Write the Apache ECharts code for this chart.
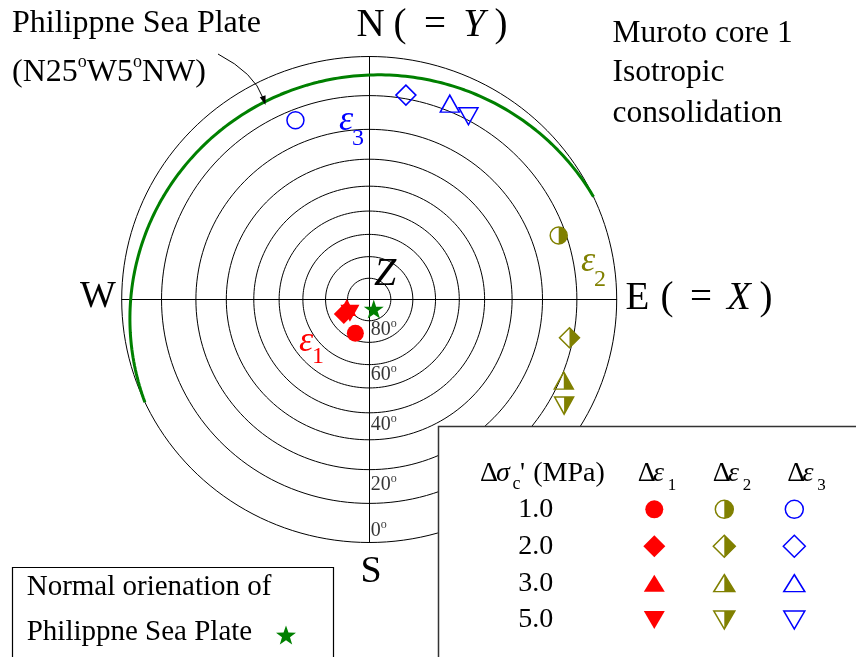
<!DOCTYPE html>
<html><head><meta charset="utf-8">
<script src="https://cdn.jsdelivr.net/npm/echarts@6/dist/echarts.min.js"></script>
<style>html,body{margin:0;padding:0;background:#fff}#c{width:856px;height:657px}</style>
</head><body><div id="c"></div>
<script>
// ---------------- data ----------------
const pressures = ['1.0', '2.0', '3.0', '5.0'];          // Δσc' (MPa)
const strainNames = ['Δε1', 'Δε2', 'Δε3'];
// trend (azimuth, deg from N clockwise) and plunge (deg) of principal strain increments
const eps1Trend = [202, 240, 250, 234];
const eps1Plunge = [73, 76.5, 79, 79];
const eps2Trend = [71, 101, 113, 119];
const eps2Plunge = [12, 11, 9, 6];
const eps3Trend = [338, 10, 22, 28];
const eps3Plunge = [13, 9, 8, 9];
// Philippine Sea Plate plane: dip direction / dip
const plateDipDir = 335;
const plateDip = 5;
// stereonet rings (plunge) and tick labels
const ringPlunges = [80, 70, 60, 50, 40, 30, 20, 10, 0];
const tickPlunges = [0, 20, 40, 60, 80];
const tickLabels = ['0', '20', '40', '60', '80'];

// ---------------- helpers ----------------
const D = Math.PI / 180;
const FONT = '"Liberation Serif", "Times New Roman", serif';
const RED = '#ff0000', OLIVE = '#808000', BLUE = '#0000ff', GREEN = '#008000';
function proj(trend, plunge) { // lower-hemisphere stereographic projection
  const r = Math.tan((90 - plunge) / 2 * D);
  return [r * Math.sin(trend * D), r * Math.cos(trend * D)];
}
const symFull = ['circle', 'diamond', 'triangle', 'triangle'];
const symRot = [0, 0, 0, 180];
const halfPaths = [
  'path://M0 -1 A1 1 0 0 1 0 1 Z M-1 0 L-1 0.001 Z',
  'path://M0 -1 L1 0 L0 1 Z M-1 0 L-1 0.001 Z',
  'path://M0 -1 L1 1 L0 1 Z M-1 1 L-1 0.999 Z',
  'path://M0 1 L1 -1 L0 -1 Z M-1 -1 L-1 -0.999 Z'
];
const STAR = 'path://M0 -1 L0.2245 -0.309 L0.9511 -0.309 L0.3633 0.118 L0.5878 0.809 L0 0.382 L-0.5878 0.809 L-0.3633 0.118 L-0.9511 -0.309 L-0.2245 -0.309 Z';
const mainSize = [[17, 17], [20, 20], [19, 17], [19, 17]];
const legSize = [[18, 18], [22, 22], [21, 17], [21, 18]];

const series = [];
// rings
ringPlunges.forEach(p => {
  const r = Math.tan((90 - p) / 2 * D);
  const d = [];
  for (let a = 0; a <= 360; a += 2) d.push([r * Math.sin(a * D), r * Math.cos(a * D)]);
  series.push({ type: 'line', data: d, symbol: 'none', silent: true, z: 1,
    lineStyle: { color: '#000', width: 1 } });
});
// plate great circle
(function () {
  const sAz = plateDipDir - 90;
  const sv = [Math.sin(sAz * D), Math.cos(sAz * D), 0];
  const dv = [Math.sin(plateDipDir * D) * Math.cos(plateDip * D),
              Math.cos(plateDipDir * D) * Math.cos(plateDip * D), Math.sin(plateDip * D)];
  const d = [];
  for (let t = 0; t <= 180; t += 1) {
    const c = Math.cos(t * D), s = Math.sin(t * D);
    const v = [c * sv[0] + s * dv[0], c * sv[1] + s * dv[1], c * sv[2] + s * dv[2]];
    d.push([v[0] / (1 + v[2]), v[1] / (1 + v[2])]);
  }
  series.push({ type: 'line', data: d, symbol: 'none', silent: true, z: 2,
    lineStyle: { color: GREEN, width: 3 } });
})();
// tick labels
series.push({
  type: 'scatter', silent: true, z: 3, symbolSize: 1, itemStyle: { color: 'rgba(0,0,0,0)' },
  data: tickPlunges.map((p, i) => {
    const inner = p > 0;
    const v = inner ? proj(180, p - 5) : proj(180, p);
    return { value: v, label: { show: true, position: [2, inner ? -2 : -12],
      formatter: '{n|' + tickLabels[i] + '}{s|o}' } };
  }),
  label: { align: 'left', verticalAlign: 'middle', color: '#000',
    rich: { n: { fontFamily: FONT, fontSize: 20, color: '#000', lineHeight: 22, verticalAlign: 'bottom' },
            s: { fontFamily: FONT, fontSize: 12, color: '#000', lineHeight: 12, verticalAlign: 'top' } } }
});
// strain points
function mk(tr, pl, fills) {
  return tr.map((t, i) => ({ value: proj(t, pl[i]), symbol: fills ? halfPaths[i] : symFull[i],
    symbolRotate: fills ? 0 : symRot[i], symbolSize: mainSize[i] }));
}
series.push({ type: 'scatter', silent: true, z: 4, data: mk(eps1Trend, eps1Plunge, false),
  itemStyle: { color: RED, borderWidth: 0, opacity: 1 } });
series.push({ type: 'scatter', silent: true, z: 4, data: mk(eps2Trend, eps2Plunge, false),
  itemStyle: { color: 'rgba(0,0,0,0)', borderColor: OLIVE, borderWidth: 1.5, opacity: 1 } });
series.push({ type: 'scatter', silent: true, z: 5, data: mk(eps2Trend, eps2Plunge, true),
  itemStyle: { color: OLIVE, borderWidth: 0, opacity: 1 } });
series.push({ type: 'scatter', silent: true, z: 4, data: mk(eps3Trend, eps3Plunge, false),
  itemStyle: { color: 'rgba(0,0,0,0)', borderColor: BLUE, borderWidth: 1.5, opacity: 1 } });
// plate pole
series.push({ type: 'scatter', silent: true, z: 6, symbol: STAR, symbolSize: [20, 19],
  data: [proj(plateDipDir - 180, 90 - plateDip)], itemStyle: { color: GREEN, opacity: 1 } });

// legend table (second grid)
series.push({ type: 'scatter', xAxisIndex: 1, yAxisIndex: 1, silent: true, z: 10,
  data: pressures.map((p, i) => ({ value: [strainNames[0], p], symbol: symFull[i], symbolRotate: symRot[i], symbolSize: legSize[i] })),
  itemStyle: { color: RED, borderWidth: 0, opacity: 1 } });
series.push({ type: 'scatter', xAxisIndex: 1, yAxisIndex: 1, silent: true, z: 10,
  data: pressures.map((p, i) => ({ value: [strainNames[1], p], symbol: symFull[i], symbolRotate: symRot[i], symbolSize: legSize[i] })),
  itemStyle: { color: 'rgba(0,0,0,0)', borderColor: OLIVE, borderWidth: 1.5, opacity: 1 } });
series.push({ type: 'scatter', xAxisIndex: 1, yAxisIndex: 1, silent: true, z: 11,
  data: pressures.map((p, i) => ({ value: [strainNames[1], p], symbol: halfPaths[i], symbolSize: legSize[i] })),
  itemStyle: { color: OLIVE, borderWidth: 0, opacity: 1 } });
series.push({ type: 'scatter', xAxisIndex: 1, yAxisIndex: 1, silent: true, z: 10,
  data: pressures.map((p, i) => ({ value: [strainNames[2], p], symbol: symFull[i], symbolRotate: symRot[i], symbolSize: legSize[i] })),
  itemStyle: { color: 'rgba(0,0,0,0)', borderColor: BLUE, borderWidth: 1.5, opacity: 1 } });

// ---------------- annotations ----------------
function txt(x, y, text, size, opt) {
  opt = opt || {};
  return { type: 'text', x: x, y: y, z: 20, silent: true,
    style: Object.assign({ text: text, fill: opt.fill || '#000',
      font: (opt.italic ? 'italic ' : '') + size + 'px ' + FONT,
      textAlign: opt.align || 'left', textVerticalAlign: 'middle',
      align: opt.align || 'left', verticalAlign: 'middle' }, opt.style || {}) };
}
function rtxt(x, y, text, rich, align) {
  return { type: 'text', x: x, y: y, z: 20, silent: true,
    style: { text: text, rich: rich, textAlign: align || 'left', textVerticalAlign: 'middle',
      align: align || 'left', verticalAlign: 'middle', fill: '#000' } };
}
const R = (size, extra) => Object.assign({ fontFamily: FONT, fontSize: size, fill: '#000', color: '#000' }, extra || {});

const graphics = [
  // boxes
  { type: 'rect', z: 5, silent: true, shape: { x: 438.5, y: 426.5, width: 430, height: 240 },
    style: { fill: '#fff', stroke: '#333', lineWidth: 1.5 } },
  { type: 'rect', z: 5, silent: true, shape: { x: 12.5, y: 567.5, width: 321, height: 100 },
    style: { fill: '#fff', stroke: '#000', lineWidth: 1.2 } },
  // arrow
  { type: 'bezierCurve', z: 20, silent: true,
    shape: { x1: 218, y1: 54, cpx1: 254.5, cpy1: 73, x2: 263, y2: 98 },
    style: { stroke: '#000', lineWidth: 1, fill: null } },
  { type: 'polygon', z: 20, silent: true,
    shape: { points: [[265.5, 105], [259.8, 97.2], [265.6, 95.3]] }, style: { fill: '#000' } },
  // top-left
  txt(12, 23.5, 'Philippne Sea Plate', 32),
  rtxt(12, 71, '{a|(N25}{s|o}{a|W5}{s|o}{a|NW)}', {
    a: R(32, { lineHeight: 36, verticalAlign: 'bottom' }),
    s: R(18, { lineHeight: 18, verticalAlign: 'top' }) }),
  // top-right
  txt(612.5, 33.5, 'Muroto core 1', 31.5),
  txt(612.5, 73, 'Isotropic', 31.5),
  txt(612.5, 113.5, 'consolidation', 31.5),
  // directions: N ( = Y )
  txt(370.5, 25.5, 'N', 39, { align: 'center' }),
  txt(400, 25.5, '(', 39, { align: 'center' }),
  txt(435, 25.5, '=', 39, { align: 'center' }),
  txt(474, 25.5, 'Y', 39, { align: 'center', italic: true }),
  txt(501, 25.5, ')', 39, { align: 'center' }),
  // E ( = X )
  txt(637.5, 299, 'E', 39, { align: 'center' }),
  txt(667, 299, '(', 39, { align: 'center' }),
  txt(701, 299, '=', 39, { align: 'center' }),
  txt(739, 299, 'X', 39, { align: 'center', italic: true }),
  txt(766, 299, ')', 39, { align: 'center' }),
  txt(98, 297, 'W', 38, { align: 'center' }),
  txt(371, 572, 'S', 38, { align: 'center' }),
  txt(385, 274, 'Z', 40, { align: 'center', italic: true }),
  // epsilon labels
  txt(346, 121, 'ε', 36, { align: 'center', italic: true, fill: BLUE }),
  txt(358, 138.5, '3', 24, { align: 'center', fill: BLUE }),
  txt(588, 262, 'ε', 36, { align: 'center', italic: true, fill: OLIVE }),
  txt(600, 279.3, '2', 24, { align: 'center', fill: OLIVE }),
  txt(306, 342, 'ε', 36, { align: 'center', italic: true, fill: RED }),
  txt(318, 357, '1', 24, { align: 'center', fill: RED }),
  // legend header
  txt(480, 473.5, 'Δ', 28),
  txt(496, 473.5, 'σ', 28, { italic: true }),
  txt(512.5, 484, 'c', 18),
  txt(520, 473.5, "'", 28),
  txt(533.3, 473.5, '(MPa)', 28),
  // bottom-left box
  txt(26.7, 587.2, 'Normal orienation of', 29),
  txt(26.7, 631.9, 'Philippne Sea Plate', 29)
];
// legend column headers Δε1, Δε2, Δε3
[637.7, 712.7, 787.3].forEach((L, k) => {
  graphics.push(txt(L, 473.5, 'Δ', 28));
  graphics.push(txt(L + 15.3, 473.5, 'ε', 28, { italic: true }));
  graphics.push(txt(L + 30, 485.5, String(k + 1), 17));
});
// star in bottom-left box
(function () {
  const pts = [];
  for (let k = 0; k < 10; k++) {
    const a = (-90 + k * 36) * D, rr = k % 2 ? 4.2 : 10.5;
    pts.push([286 + rr * Math.cos(a), 636 + rr * Math.sin(a)]);
  }
  graphics.push({ type: 'polygon', z: 20, silent: true, shape: { points: pts }, style: { fill: GREEN } });
})();

const option = {
  animation: false,
  backgroundColor: '#fff',
  grid: [
    { left: 121.7, top: 56.5, width: 495, height: 486, outerBoundsMode: 'none', containLabel: false },
    { left: 619.3, top: 490.9, width: 210, height: 147.6, outerBoundsMode: 'none', containLabel: false }
  ],
  xAxis: [
    { gridIndex: 0, type: 'value', min: -1, max: 1, z: 1,
      axisLine: { show: true, onZero: true, lineStyle: { color: '#000', width: 1 } },
      axisTick: { show: false }, axisLabel: { show: false }, splitLine: { show: false } },
    { gridIndex: 1, type: 'category', data: strainNames, show: false }
  ],
  yAxis: [
    { gridIndex: 0, type: 'value', min: -1, max: 1, z: 1,
      axisLine: { show: true, onZero: true, lineStyle: { color: '#000', width: 1 } },
      axisTick: { show: false }, axisLabel: { show: false }, splitLine: { show: false } },
    { gridIndex: 1, type: 'category', data: pressures, inverse: true, z: 12,
      axisLine: { show: false }, axisTick: { show: false }, splitLine: { show: false },
      axisLabel: { interval: 0, margin: 66, fontSize: 28, fontFamily: FONT, color: '#000' } }
  ],
  series: series,
  graphic: { elements: graphics }
};
const chart = echarts.init(document.getElementById('c'));
chart.setOption(option);
</script>
</body></html>
